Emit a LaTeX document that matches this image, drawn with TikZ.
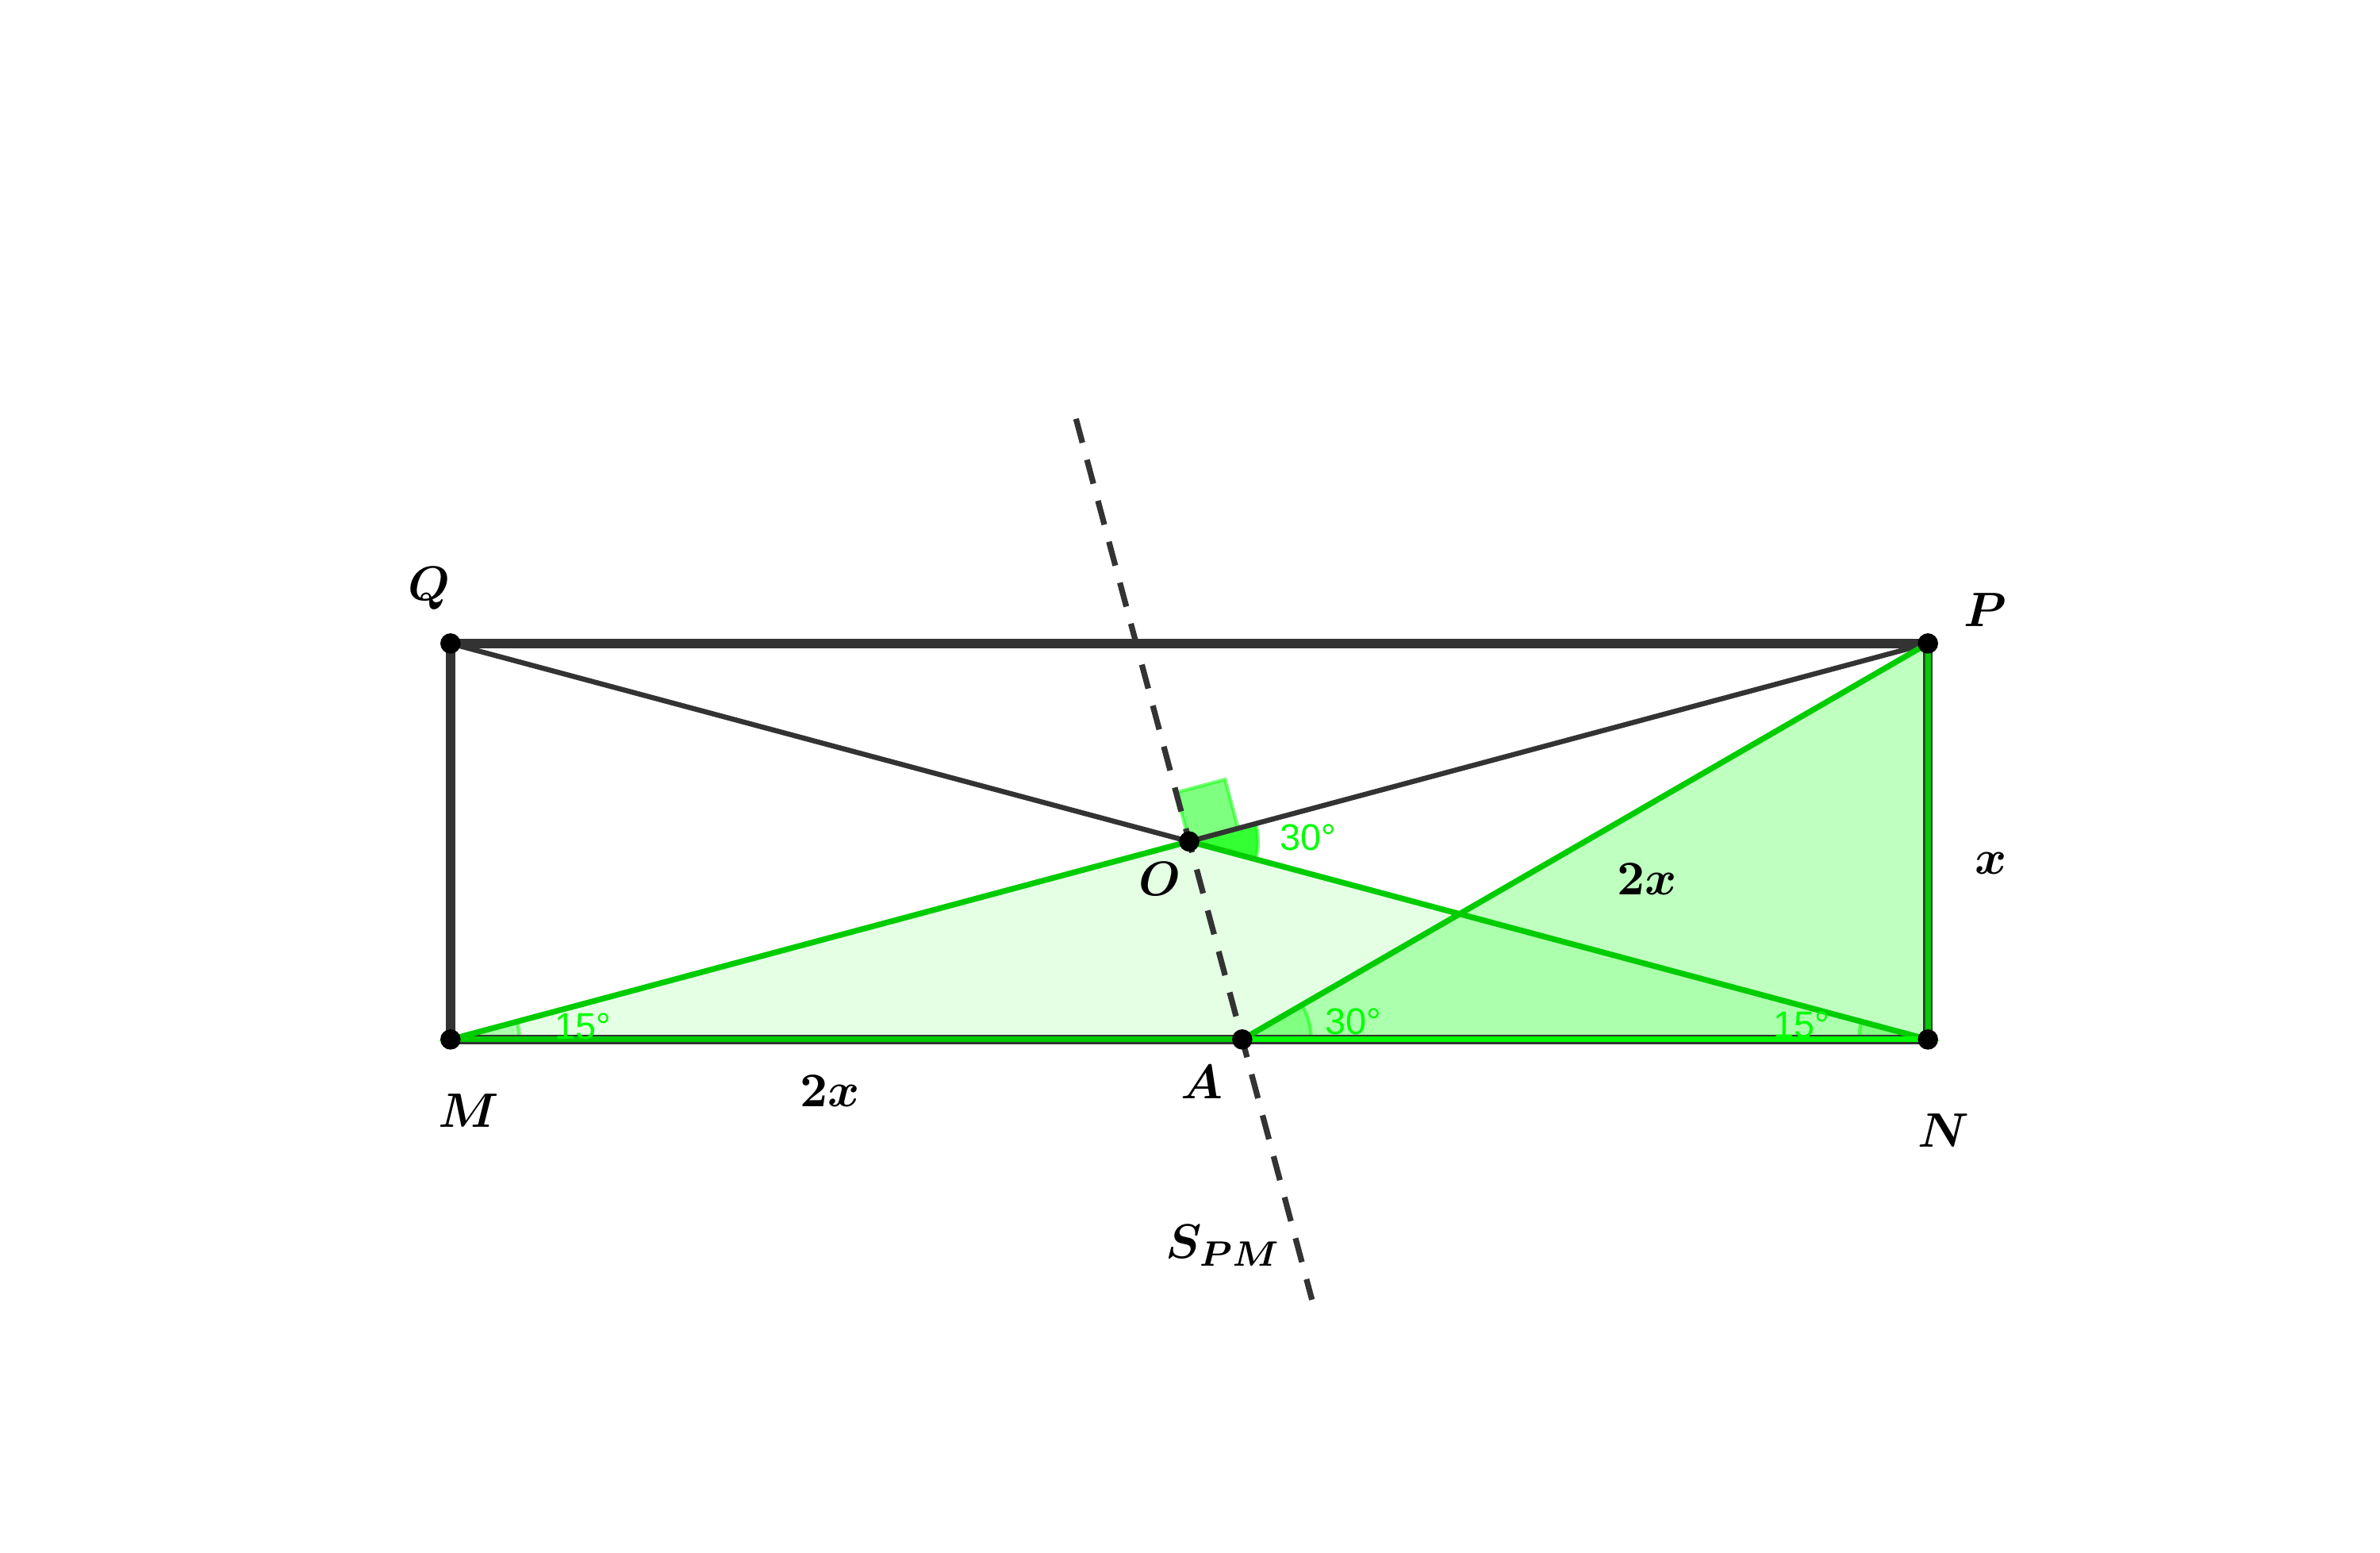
\documentclass[tikz,border=0pt]{standalone}
\usepackage{amsmath,bm}
\usepackage{fontspec}
\newfontfamily\degfont{Liberation Sans}
\usetikzlibrary{calc}
\definecolor{dark}{RGB}{51,51,51}
\definecolor{ggreen}{RGB}{0,204,0}
\definecolor{agreen}{RGB}{0,255,0}
\tikzset{
  rect/.style={line width=2.2pt,draw=dark},
  diag/.style={line width=1.15pt,draw=dark},
  gline/.style={line width=1.3pt,draw=ggreen},
  dot/.style={circle,fill=black,inner sep=0pt,minimum size=4.6pt},
  ptlab/.style={font=\fontsize{11}{13}\selectfont},
  deglab/.style={font=\degfont\fontsize{8.4}{10}\selectfont,text=agreen},
  sector/.style={fill=agreen,fill opacity=0.25,draw=agreen,draw opacity=0.5,line width=0.8pt}
}
\begin{document}
\begin{tikzpicture}[x=3.15cm,y=3.15cm]
\useasboundingbox (-1.138,-1.295) rectangle (4.874,2.625);
\coordinate (M) at (0,0);
\coordinate (N) at ({2+sqrt(3)},0);
\coordinate (P) at ({2+sqrt(3)},1);
\coordinate (Q) at (0,1);
\coordinate (A) at (2,0);
\coordinate (O) at ({1+sqrt(3)/2},0.5);
\coordinate (S1) at ($(O)+(105:1.105)$);
\coordinate (S2) at ($(O)+(-75:1.198)$);
% triangles
\fill[agreen,opacity=0.1] (M) -- (O) -- (N) -- cycle;
\fill[agreen,opacity=0.25] (A) -- (P) -- (N) -- cycle;
% angles
\filldraw[sector] (M) -- ++(0:0.174) arc (0:15:0.174) -- cycle;
\filldraw[sector] (A) -- ++(0:0.174) arc (0:30:0.174) -- cycle;
\filldraw[sector] (N) -- ++(180:0.174) arc (180:165:0.174) -- cycle;
\filldraw[sector,fill opacity=0.8] (O) -- ++(-15:0.174) arc (-15:15:0.174) -- cycle;
\filldraw[sector,fill opacity=0.5] (O) -- ++(15:0.128) -- ++(105:0.128) -- ++(195:0.128) -- cycle;
% rectangle and diagonals
\draw[rect] (Q) -- (P);
\draw[rect] (Q) -- (M);
\draw[rect] (M) -- (N);
\draw[rect] (N) -- (P);
\draw[diag] (Q) -- (O) -- (P);
\draw[gline] (M) -- (O) -- (N);
\draw[gline] (A) -- (P) -- (N);
\draw[gline] (M) -- (A);
\draw[gline,draw=agreen] (A) -- (N);
% bisector
\draw[dark,line width=1.3pt,dash pattern=on 5.6pt off 4pt] (S1) -- (S2);
% points
\node[dot] (m) at (M) {};
\node[dot] (n) at (N) {};
\node[dot] (p) at (P) {};
\node[dot] (q) at (Q) {};
\node[dot] (a) at (A) {};
\node[dot] (o) at (O) {};
% labels
\node[ptlab] (lQ) at (-0.054,1.138) {$\bm{Q}$};
\node[ptlab] (lP) at (3.876,1.084) {$\bm{P}$};
\node[ptlab] (lM) at (0.046,-0.180) {$\bm{M}$};
\node[ptlab] (lN) at (3.772,-0.230) {$\bm{N}$};
\node[ptlab] (lO) at (1.792,0.405) {$\bm{O}$};
\node[ptlab] (lA) at (1.898,-0.108) {$\bm{A}$};
\node[ptlab] (lMA) at (0.958,-0.130) {$\bm{2x}$};
\node[ptlab] (lAP) at (3.022,0.405) {$\bm{2x}$};
\node[ptlab] (lPN) at (3.892,0.445) {$\bm{x}$};
\node[ptlab] (lS) at (1.952,-0.521) {$\bm{S_{PM}}$};
\node[deglab] (dM) at (0.335,0.034) {15°};
\node[deglab] (dO) at (2.166,0.509) {30°};
\node[deglab] (dA) at (2.281,0.046) {30°};
\node[deglab] (dN) at (3.413,0.038) {15°};
\end{tikzpicture}
\end{document}
